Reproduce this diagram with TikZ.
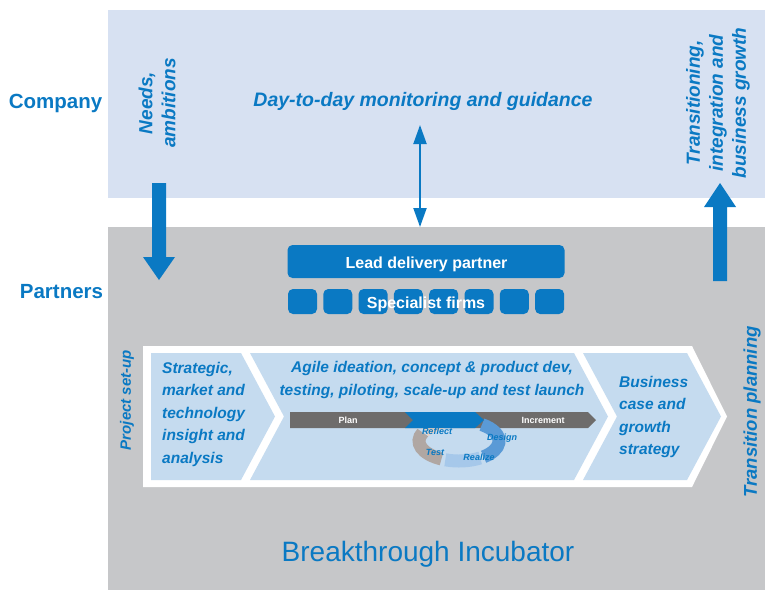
\documentclass[tikz,border=0pt]{standalone}
\usepackage{fontspec}
\setmainfont{Liberation Sans}
\usetikzlibrary{arrows.meta}
\definecolor{kblue}{HTML}{0A79C3}
\definecolor{topband}{HTML}{D7E1F2}
\definecolor{greyband}{HTML}{C6C7C9}
\definecolor{chev}{HTML}{C5DBEF}
\definecolor{barg}{HTML}{6E6C6B}
\definecolor{cdesign}{HTML}{5A9AD6}
\definecolor{crealize}{HTML}{A6C8EA}
\definecolor{ctest}{HTML}{B0A7A3}
\definecolor{creflect}{HTML}{E6D0C2}
\begin{document}
\begin{tikzpicture}[x=1pt,y=-1pt,
  lbl/.style={text=kblue, font=\bfseries\itshape\fontsize{15.5}{22.5}\selectfont, align=left, inner sep=0pt},
  side/.style={text=kblue, font=\bfseries\fontsize{20.5}{24}\selectfont, inner sep=0pt},
  vlbl/.style={text=kblue, font=\bfseries\itshape\fontsize{19}{23}\selectfont, align=center, inner sep=0pt, rotate=90},
  bluebox/.style={fill=kblue, rounded corners=5pt, draw=none, inner sep=0pt},
  wtext/.style={text=white, font=\bfseries\fontsize{16}{18}\selectfont, inner sep=0pt},
  bartext/.style={text=white, font=\bfseries\fontsize{9}{10}\selectfont, inner sep=0pt},
  cyctext/.style={text=kblue, font=\bfseries\itshape\fontsize{9}{10}\selectfont, inner sep=0pt},
  bigarrow/.style={fill=kblue, draw=none}
]
\useasboundingbox (0,0) rectangle (765,590);
% bands
\fill[topband] (108,10) rectangle (765,198);
\fill[greyband] (108,227) rectangle (765,590);

% side labels
\node[side, anchor=base] (company) at (55.5,108) {Company};
\node[side, anchor=base] (partners) at (61.5,298) {Partners};

% top texts
\node[lbl, font=\bfseries\itshape\fontsize{19.5}{22}\selectfont, anchor=base] (daytoday) at (423,106) {Day-to-day monitoring and guidance};
\node[vlbl] (needs) at (157,103) {Needs,\\ambitions};
\node[vlbl] (transit) at (718,103) {Transitioning,\\integration and\\business growth};

% big arrows
\fill[bigarrow] (152,183) -- (166,183) -- (166,257) -- (175,257) -- (159,280) -- (143,257) -- (152,257) -- cycle;
\fill[bigarrow] (713,281) -- (727,281) -- (727,207) -- (736,207) -- (720,183) -- (704,207) -- (713,207) -- cycle;

% double arrow
\coordinate (dtop) at (420,125);
\coordinate (dbot) at (420,227);
\draw[kblue, line width=2pt, {Triangle[width=13pt,length=19pt]}-{Triangle[width=13pt,length=19pt]}] (dbot) -- (dtop);

% lead delivery partner
\node[bluebox, minimum width=277pt, minimum height=33pt] (lead) at (426,261.5) {};
\node[wtext, anchor=base] (leadtxt) at (426.5,268) {Lead delivery partner};
\foreach \i in {0,...,7} {
  \node[bluebox, minimum width=29pt, minimum height=25pt] (sq\i) at (302.5+35.3*\i,301.5) {};
}
\node[wtext, anchor=base] (spec) at (426,308) {Specialist firms};

% white frame and chevrons
\fill[white] (143,346) -- (692,346) -- (727,416.5) -- (692,487) -- (143,487) -- cycle;
\fill[chev] (151,353) -- (241,353) -- (275,416.5) -- (241,480) -- (151,480) -- cycle;
\fill[chev] (250,353) -- (574,353) -- (608,416.5) -- (574,480) -- (250,480) -- (284,416.5) -- cycle;
\fill[chev] (583,353) -- (687,353) -- (721,416.5) -- (687,480) -- (583,480) -- (617,416.5) -- cycle;

\node[lbl, anchor=west] (strat) at (162,414) {Strategic,\\market and\\technology\\insight and\\analysis};
\node[lbl, align=center] (agile) at (432,380) {Agile ideation, concept \& product dev,\\testing, piloting, scale-up and test launch};
\node[lbl, anchor=west] (biz) at (619,417) {Business\\case and\\growth\\strategy};

% plan bar
\fill[barg] (290,412) -- (588,412) -- (596,420) -- (588,428) -- (290,428) -- cycle;
% cycle ring
\draw[cdesign, line width=13pt] (459,441) ++(-55:40 and 20) arc[start angle=-55, end angle=52, x radius=40, y radius=20];
\draw[crealize, line width=13pt] (459,441) ++(58:40 and 20) arc[start angle=58, end angle=110, x radius=40, y radius=20];
\draw[ctest, line width=13pt] (459,441) ++(116:40 and 20) arc[start angle=116, end angle=205, x radius=40, y radius=20];
\draw[creflect, line width=13pt] (459,441) ++(210:40 and 20) arc[start angle=210, end angle=245, x radius=40, y radius=20];
\fill[kblue] (405,412) -- (475,412) -- (484,420) -- (475,428) -- (405,428) -- (413,420) -- cycle;
\node[bartext] (plan) at (348,420) {Plan};
\node[bartext] (incr) at (543,420) {Increment};
\node[cyctext] (reflect) at (437,431) {Reflect};
\node[cyctext] (design) at (502,438) {Design};
\node[cyctext] (test) at (435,452) {Test};
\node[cyctext] (realize) at (479,457) {Realize};

% vertical side labels
\node[vlbl, font=\bfseries\itshape\fontsize{15}{18}\selectfont] (setup) at (127,400) {Project set-up};
\node[vlbl, font=\bfseries\itshape\fontsize{18.5}{22}\selectfont] (tplan) at (752,412) {Transition planning};

\node[text=kblue, font=\fontsize{28}{32}\selectfont, inner sep=0pt, anchor=base] (incub) at (428,561) {Breakthrough Incubator};
\end{tikzpicture}
\end{document}
